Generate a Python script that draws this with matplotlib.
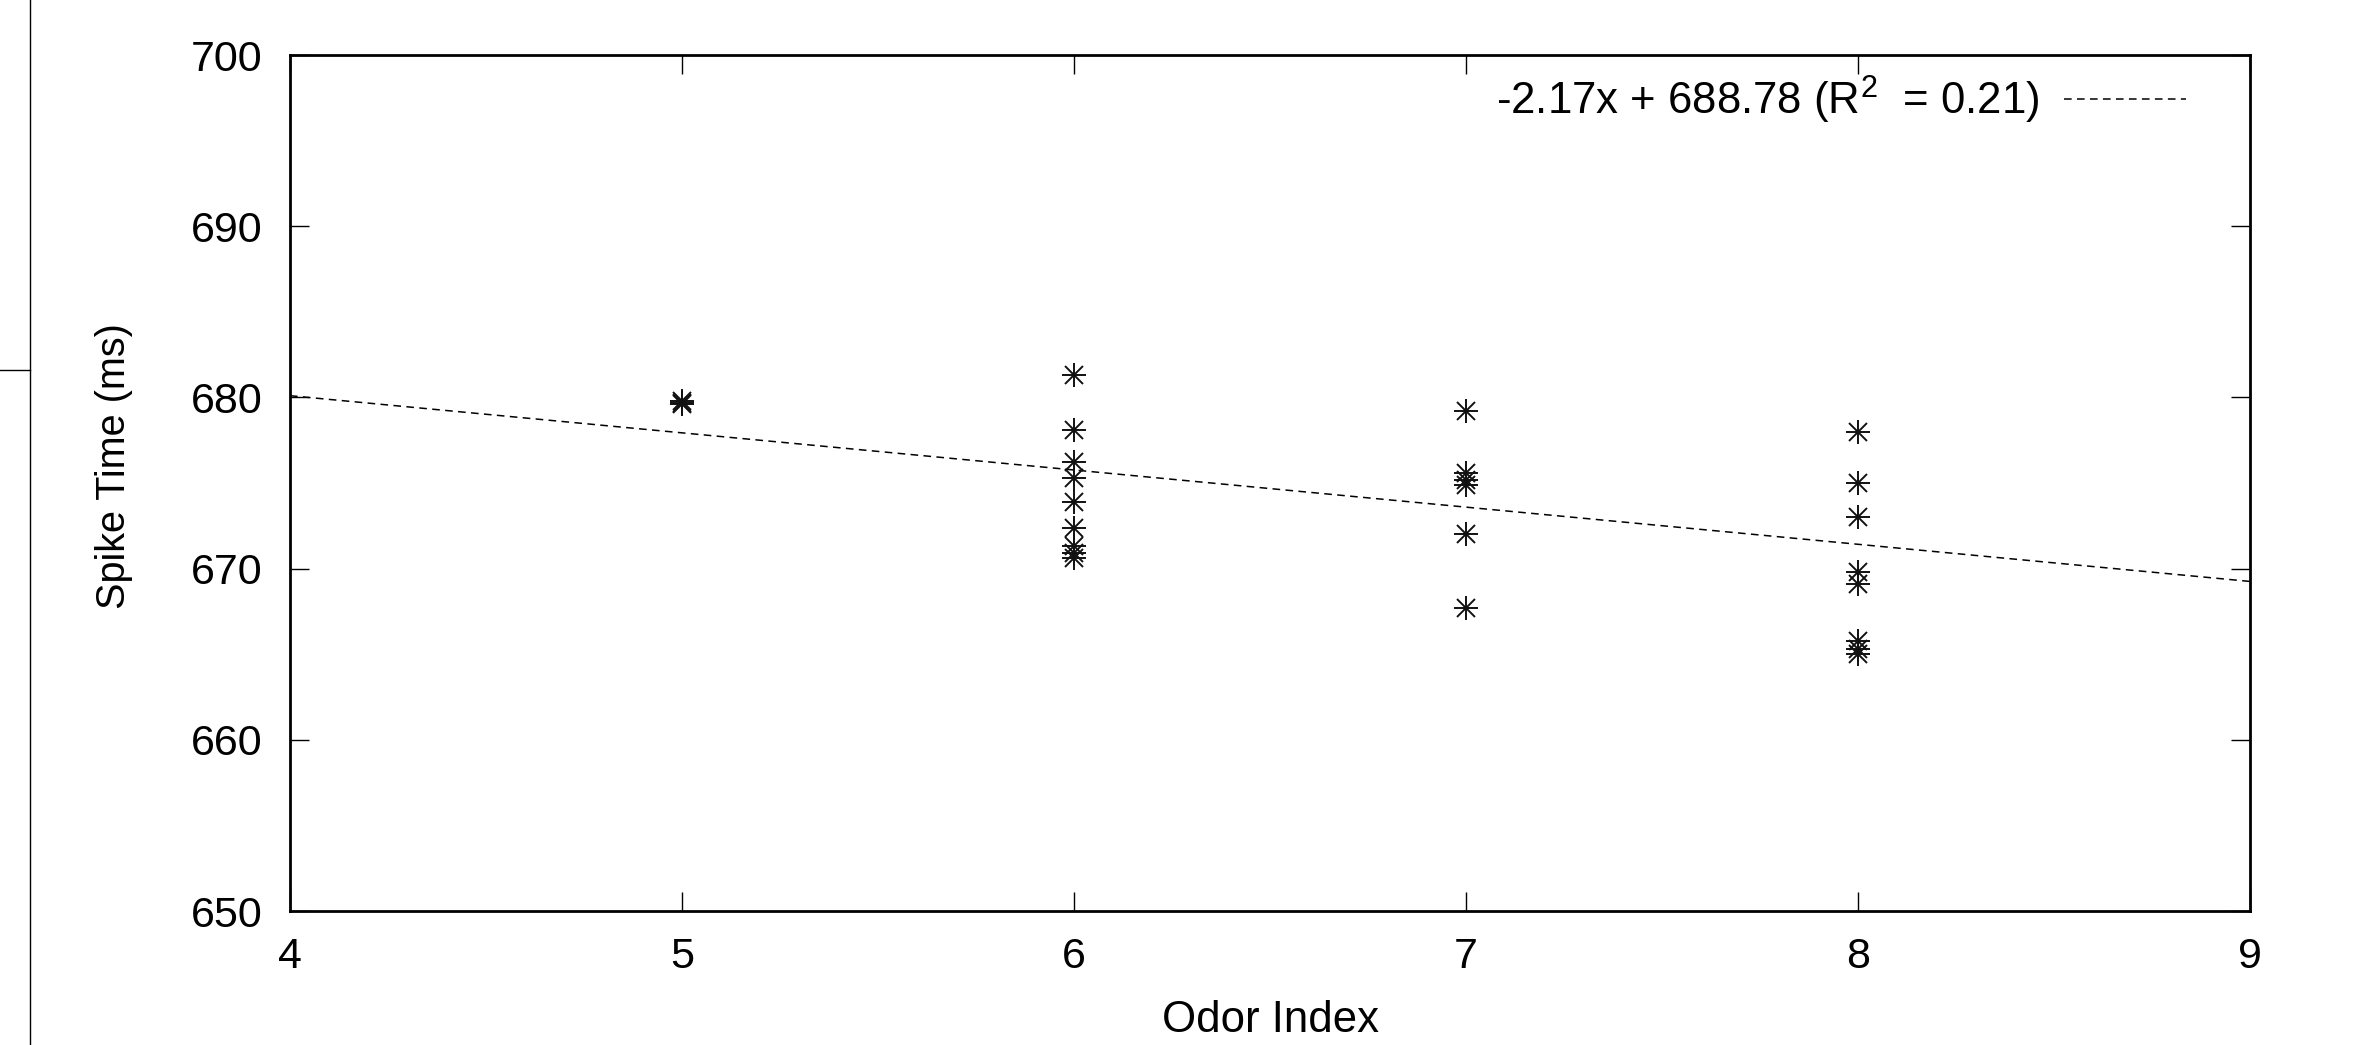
import matplotlib
matplotlib.use("Agg")
import matplotlib.pyplot as plt
from matplotlib.lines import Line2D

plt.rcParams['font.family'] = ['Liberation Sans', 'DejaVu Sans']
plt.rcParams['mathtext.fontset'] = 'custom'
plt.rcParams['mathtext.rm'] = 'Liberation Sans'

# ---- data ----
odor_index = [5, 5, 5,
              6, 6, 6, 6, 6, 6, 6, 6, 6,
              7, 7, 7, 7, 7, 7,
              8, 8, 8, 8, 8, 8, 8, 8]
spike_time = [679.8, 679.6, 679.7,
              681.3, 678.1, 676.2, 675.3, 673.9, 672.4, 671.3, 670.9, 670.6,
              679.2, 675.6, 675.2, 674.9, 672.0, 667.7,
              678.0, 675.0, 673.0, 669.8, 669.1, 665.8, 665.3, 665.0]
fit_slope = -2.17
fit_intercept = 688.78
fit_r2 = 0.21
fit_x = [4, 9]
x_ticks = [4, 5, 6, 7, 8, 9]
y_ticks = [650, 660, 670, 680, 690, 700]

W, H = 2360, 1045
fig = plt.figure(figsize=(W / 100, H / 100), dpi=100)
ax = fig.add_axes([290 / W, 1 - 911 / H, (2250 - 290) / W, (911 - 55) / H])

# regression line
fy = [fit_slope * x + fit_intercept for x in fit_x]
ax.plot(fit_x, fy, color='black', lw=1.1, linestyle=(0, (5, 3.5)),
        label=f"{fit_slope:.2f}x + {fit_intercept:.2f} (R$^{{2}}$  = {fit_r2:.2f})")

# star markers (plus + cross)
ax.plot(odor_index, spike_time, linestyle='none', marker='+', markersize=17,
        markeredgewidth=1.4, color='#111111')
ax.plot(odor_index, spike_time, linestyle='none', marker='x', markersize=12.5,
        markeredgewidth=1.4, color='#111111')

ax.set_xlim(4, 9)
ax.set_ylim(650, 700)
ax.set_xticks(x_ticks)
ax.set_yticks(y_ticks)
ax.tick_params(direction='in', length=14, width=1.0, labelsize=31, pad=19,
               top=True, right=True, colors='black')
ax.tick_params(axis='y', pad=20)
for s in ax.spines.values():
    s.set_linewidth(2.0)

ax.set_xlabel("Odor Index", fontsize=31.5)
ax.set_ylabel("Spike Time (ms)", fontsize=28.5)
ax.xaxis.set_label_coords(0.5, -0.104)
ax.yaxis.set_label_coords(-0.080, 0.52)

leg = ax.legend(loc='upper right', frameon=False, fontsize=31.5, markerfirst=False,
                handlelength=2.8, handletextpad=0.55, borderaxespad=0.3,
                bbox_to_anchor=(0.983, 1.014))

# screenshot edge artifacts
fig.add_artist(Line2D([30 / W, 30 / W], [0, 1], transform=fig.transFigure,
                      color='black', lw=1.0))
fig.add_artist(Line2D([0, 30 / W], [1 - 370 / H, 1 - 370 / H], transform=fig.transFigure,
                      color='black', lw=1.0))

fig.savefig("out.png", dpi=100)
